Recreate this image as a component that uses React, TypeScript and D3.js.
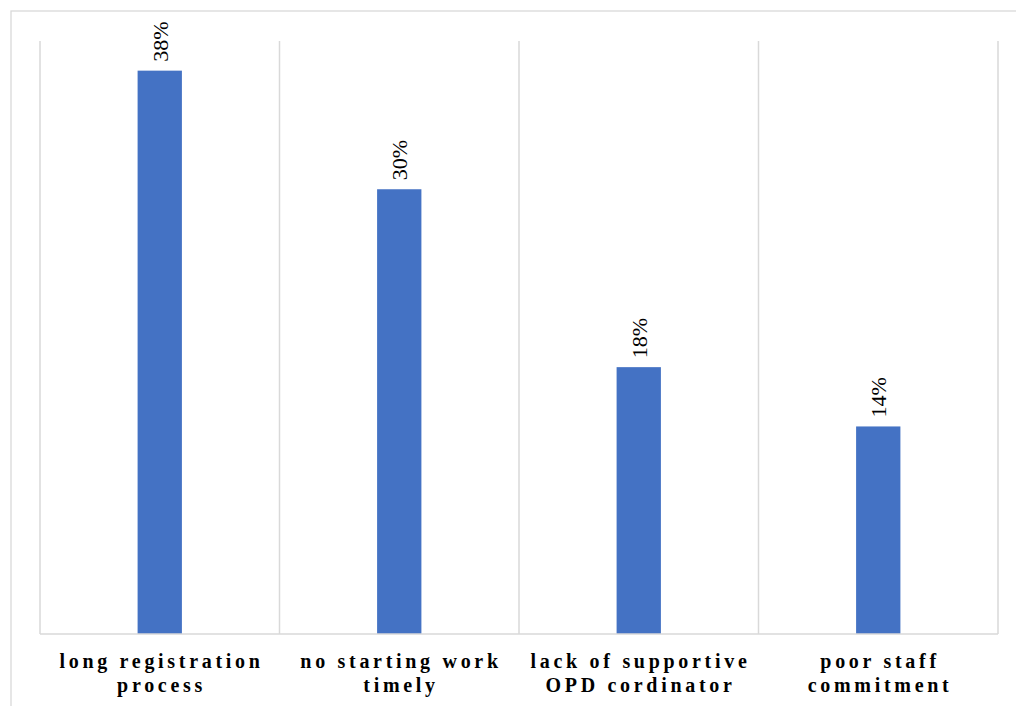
import React, { useEffect, useRef } from 'react';
import * as d3 from 'd3';

const categories = [
  ['long registration', 'process'],
  ['no starting work', 'timely'],
  ['lack of supportive', 'OPD cordinator'],
  ['poor staff', 'commitment'],
];
const values = [38, 30, 18, 14];
const valueLabels = ['38%', '30%', '18%', '14%'];

const App = () => {
  const svgRef = useRef<SVGSVGElement>(null);

  useEffect(() => {
    const width = 1016;
    const height = 706;
    const left = 40;
    const right = 998;
    const top = 41;
    const bottom = 634;

    const svg = d3.select(svgRef.current);
    svg.selectAll('*').remove();
    svg.attr('width', width).attr('height', height);

    svg.append('rect')
      .attr('width', width)
      .attr('height', height)
      .attr('fill', 'white');

    // chart area border
    svg.append('rect')
      .attr('x', 11)
      .attr('y', 11)
      .attr('width', 1010)
      .attr('height', 710)
      .attr('fill', 'none')
      .attr('stroke', '#d9d9d9')
      .attr('stroke-width', 1.3);

    const keys = categories.map((c, i) => String(i));
    const x = d3.scaleBand().domain(keys).range([left, right]);
    const y = d3.scaleLinear().domain([0, 40]).range([bottom, top]);

    // category separators
    const edges = keys.map(k => x(k) as number).concat([right]);
    svg.selectAll('line.grid')
      .data(edges)
      .enter()
      .append('line')
      .attr('class', 'grid')
      .attr('x1', d => d)
      .attr('x2', d => d)
      .attr('y1', top)
      .attr('y2', bottom)
      .attr('stroke', '#d9d9d9')
      .attr('stroke-width', 1.5);

    // bars
    const barW = x.bandwidth() * 0.185;
    svg.selectAll('rect.bar')
      .data(values)
      .enter()
      .append('rect')
      .attr('class', 'bar')
      .attr('x', (d, i) => (x(keys[i]) as number) + x.bandwidth() / 2 - barW / 2)
      .attr('y', d => y(d))
      .attr('width', barW)
      .attr('height', d => y(0) - y(d))
      .attr('fill', '#4472c4');

    // baseline
    svg.append('line')
      .attr('x1', left)
      .attr('x2', right)
      .attr('y1', bottom)
      .attr('y2', bottom)
      .attr('stroke', '#d9d9d9')
      .attr('stroke-width', 1.5);

    // value labels (rotated)
    svg.selectAll('text.val')
      .data(values)
      .enter()
      .append('text')
      .attr('class', 'val')
      .attr('transform', (d, i) => {
        const cx = (x(keys[i]) as number) + x.bandwidth() / 2 + 8;
        return `translate(${cx},${y(d) - 9}) rotate(-90)`;
      })
      .attr('font-family', '"Liberation Serif", "Times New Roman", serif')
      .attr('font-size', 22)
      .attr('fill', '#000')
      .text((d, i) => valueLabels[i]);

    // category labels
    const labels = svg.selectAll('text.cat')
      .data(categories)
      .enter()
      .append('text')
      .attr('class', 'cat')
      .attr('text-anchor', 'middle')
      .attr('font-family', '"Liberation Serif", "Times New Roman", serif')
      .attr('font-weight', 'bold')
      .attr('font-size', 20)
      .attr('letter-spacing', 3.7)
      .attr('fill', '#000');

    labels.each(function (d, i) {
      const cx = (x(keys[i]) as number) + x.bandwidth() / 2;
      d.forEach((line, j) => {
        d3.select(this).append('tspan')
          .attr('x', cx + 1.8)
          .attr('y', 668 + j * 24)
          .text(line);
      });
    });
  }, []);

  return (
    <div style={{ position: 'absolute', left: 0, top: 0 }}>
      <svg ref={svgRef}></svg>
    </div>
  );
};

export default App;
